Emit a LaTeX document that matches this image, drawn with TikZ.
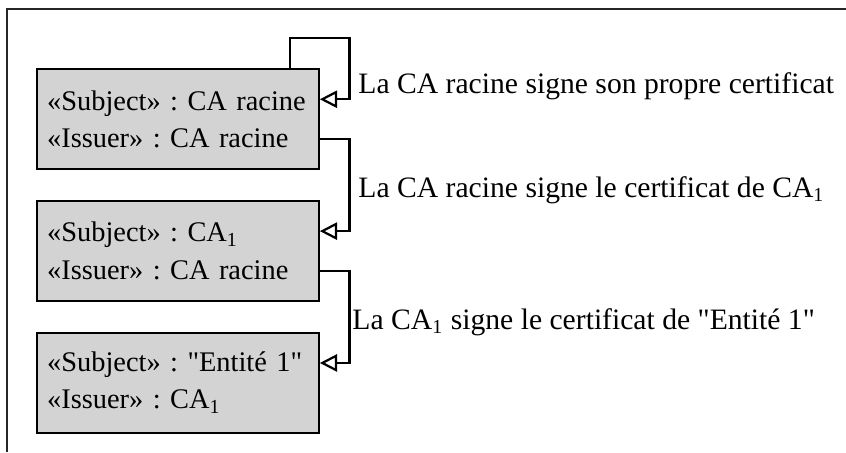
\documentclass[12pt,tikz,border=0pt]{standalone}
\usepackage{fontspec}
\setmainfont{Liberation Serif}
\usetikzlibrary{arrows.meta}
\usetikzlibrary{positioning}
\definecolor{boxgray}{RGB}{211,211,211}
\frenchspacing

\begin{document}
\begin{tikzpicture}[x=0.405pt,y=-0.405pt,
		certbox/.style={draw,line width=0.9pt,fill=boxgray,rectangle,minimum width=114pt,minimum height=40.5pt,text width=106pt,align=left,inner xsep=4pt,font=\fontsize{11.5pt}{15pt}\selectfont},
		note/.style={anchor=west,inner sep=0pt,font=\fontsize{12pt}{15pt}\selectfont},
		link/.style={draw,line width=0.9pt,-{Triangle[open,length=7pt,width=7pt]}}]
		\useasboundingbox (0,0) rectangle (846,452);
		\draw[line width=1pt,black!85] (846,9) -- (7,9) -- (7,452);
		\node (racine) [certbox] at (178,119) {«Subject» : CA racine\\«Issuer» : CA racine};
		\node (ca1) [certbox,below=12pt of racine] {«Subject» : CA\textsubscript{1}\\«Issuer» : CA racine};
		\node (entite) [certbox,below=12pt of ca1] {«Subject» : \textquotedbl Entité 1\textquotedbl\\«Issuer» : CA\textsubscript{1}};
		\draw[link] ([xshift=-12pt]racine.north east) |- ([xshift=12pt,yshift=12pt]racine.north east) |- ([yshift=8pt]racine.east);
		\draw[link] ([yshift=-8pt]racine.east) -- ++(12pt,0) |- ([yshift=8pt]ca1.east);
		\draw[link] ([yshift=-8pt]ca1.east) -- ++(12pt,0) |- ([yshift=8pt]entite.east);
		\node (selfsign) [note] at (358,86) {La CA racine signe son propre certificat};
		\node (signca) [note] at (358,190) {La CA racine signe le certificat de CA\textsubscript{1}};
		\node (signent) [note] at (352,322) {La CA\textsubscript{1} signe le certificat de \textquotedbl Entité 1\textquotedbl};
	\end{tikzpicture}
\end{document}
